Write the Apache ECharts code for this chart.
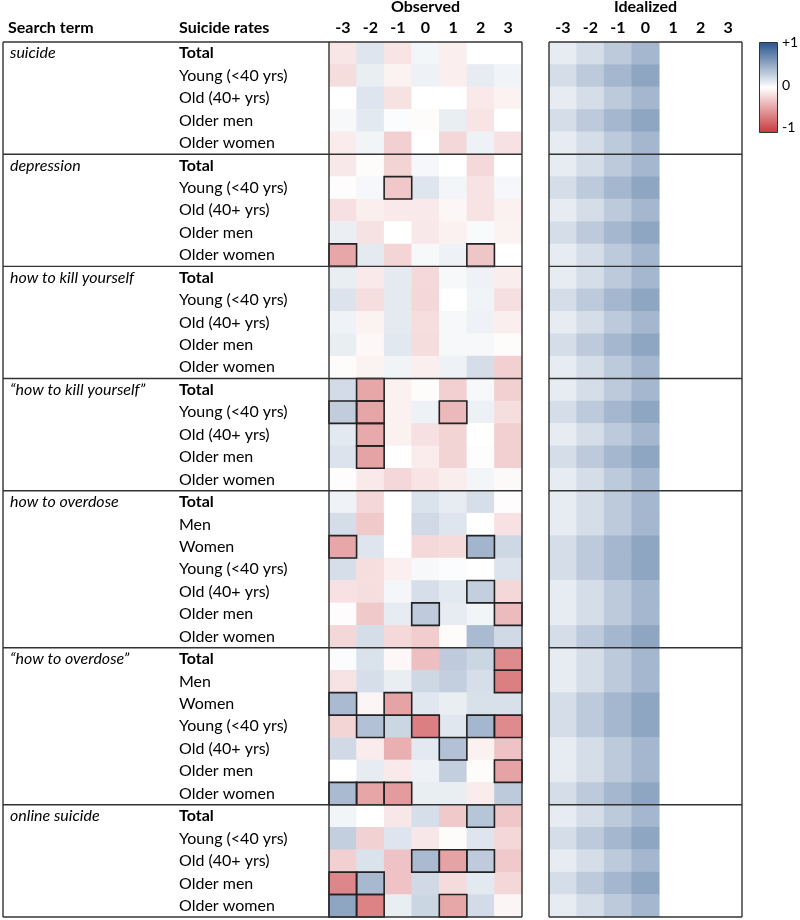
<!DOCTYPE html>
<html>
<head>
<meta charset="utf-8">
<script src="https://cdn.jsdelivr.net/npm/echarts@6/dist/echarts.min.js"></script>
<style>html,body{margin:0;padding:0;background:#fff;}#chart{width:800px;height:920px;}</style>
</head>
<body>
<div id="chart"></div>
<script>
// ---------- DATA ----------
const colLabels = ['-3', '-2', '-1', '0', '1', '2', '3'];
const searchTerms = ['suicide', 'depression', 'how to kill yourself', '\u201chow to kill yourself\u201d',
  'how to overdose', '\u201chow to overdose\u201d', 'online suicide'];
const groupSizes = [5, 5, 5, 5, 7, 7, 5];
const rowLabels = [
  'Total', 'Young (<40 yrs)', 'Old (40+ yrs)', 'Older men', 'Older women',
  'Total', 'Young (<40 yrs)', 'Old (40+ yrs)', 'Older men', 'Older women',
  'Total', 'Young (<40 yrs)', 'Old (40+ yrs)', 'Older men', 'Older women',
  'Total', 'Young (<40 yrs)', 'Old (40+ yrs)', 'Older men', 'Older women',
  'Total', 'Men', 'Women', 'Young (<40 yrs)', 'Old (40+ yrs)', 'Older men', 'Older women',
  'Total', 'Men', 'Women', 'Young (<40 yrs)', 'Old (40+ yrs)', 'Older men', 'Older women',
  'Total', 'Young (<40 yrs)', 'Old (40+ yrs)', 'Older men', 'Older women'
];
// observed correlations, columns -3..3
const observed = [
  [-0.125, 0.15, -0.135, 0.055, -0.085, 0, 0],
  [-0.175, 0.1, -0.065, 0.08, -0.085, 0.11, 0.07],
  [0, 0.15, -0.145, 0, 0, -0.11, -0.065],
  [0.04, 0.13, 0.02, -0.02, 0.1, -0.135, 0],
  [-0.095, 0.06, -0.24, 0, -0.2, 0.08, -0.15],

  [-0.115, -0.02, -0.215, 0.045, 0, -0.19, 0],
  [-0.015, 0.045, -0.275, 0.15, 0.055, -0.14, 0.045],
  [-0.155, -0.085, -0.11, -0.11, -0.045, -0.14, -0.07],
  [0.095, -0.145, 0, -0.115, -0.07, 0.03, -0.065],
  [-0.44, 0.12, -0.21, 0.04, 0.08, -0.285, 0],

  [0.1, -0.11, 0.12, -0.19, 0.04, 0.08, -0.09],
  [0.16, -0.17, 0.12, -0.2, 0, 0.065, -0.16],
  [0.075, -0.065, 0.12, -0.17, 0.04, 0.08, -0.085],
  [0.1, -0.04, 0.135, -0.175, 0.04, 0.04, -0.02],
  [-0.02, -0.065, 0.065, -0.085, 0.08, 0.2, -0.24],

  [0.21, -0.44, -0.07, -0.02, -0.24, 0.04, -0.24],
  [0.29, -0.45, -0.07, 0.08, -0.35, 0.085, -0.17],
  [0.13, -0.43, -0.07, -0.155, -0.215, 0, -0.24],
  [0.16, -0.46, 0, -0.1, -0.215, -0.01, -0.24],
  [-0.015, -0.11, -0.2, -0.135, -0.09, 0.055, -0.03],

  [0.075, -0.2, 0, 0.17, 0.11, 0.19, -0.015],
  [0.2, -0.27, 0, 0.22, 0.15, 0, -0.15],
  [-0.44, 0.15, 0, -0.19, -0.18, 0.43, 0.23],
  [0.19, -0.17, -0.08, 0.04, 0.02, 0, 0.16],
  [-0.15, -0.17, 0.05, 0.19, 0.13, 0.28, -0.2],
  [-0.015, -0.27, 0.11, 0.3, 0.11, 0.06, -0.34],
  [-0.2, 0.2, -0.19, -0.25, -0.02, 0.4, 0.22],

  [0.02, 0.17, -0.04, -0.32, 0.3, 0.24, -0.58],
  [-0.14, 0.19, 0.1, 0.23, 0.28, 0.19, -0.64],
  [0.4, -0.05, -0.46, 0.14, 0.1, 0.18, 0.18],
  [-0.21, 0.36, 0.24, -0.64, 0.14, 0.42, -0.58],
  [0.22, -0.1, -0.4, 0.13, 0.36, -0.07, -0.3],
  [0, 0.11, -0.11, 0.08, 0.28, -0.02, -0.46],
  [0.4, -0.45, -0.5, 0.1, 0.1, -0.1, 0.31],

  [0.06, 0, -0.12, 0.19, -0.27, 0.34, -0.28],
  [0.28, -0.23, 0.15, -0.12, -0.02, 0.15, -0.2],
  [-0.24, 0.17, -0.3, 0.4, -0.46, 0.3, -0.27],
  [-0.6, 0.41, -0.3, 0.22, -0.18, 0.13, -0.2],
  [0.52, -0.62, 0.1, 0.24, -0.44, 0.21, -0.05]
];
// idealized correlations, columns -3..0 (1..3 empty)
const idealized = [
  [0.11, 0.2, 0.31, 0.42], [0.2, 0.31, 0.42, 0.52], [0.11, 0.2, 0.31, 0.42], [0.2, 0.31, 0.42, 0.52], [0.11, 0.2, 0.31, 0.42],
  [0.11, 0.2, 0.31, 0.42], [0.2, 0.31, 0.42, 0.52], [0.11, 0.2, 0.31, 0.42], [0.2, 0.31, 0.42, 0.52], [0.11, 0.2, 0.31, 0.42],
  [0.11, 0.2, 0.31, 0.42], [0.2, 0.31, 0.42, 0.52], [0.11, 0.2, 0.31, 0.42], [0.2, 0.31, 0.42, 0.52], [0.11, 0.2, 0.31, 0.42],
  [0.11, 0.2, 0.31, 0.42], [0.2, 0.31, 0.42, 0.52], [0.11, 0.2, 0.31, 0.42], [0.2, 0.31, 0.42, 0.52], [0.11, 0.2, 0.31, 0.42],
  [0.11, 0.2, 0.31, 0.42], [0.11, 0.2, 0.31, 0.42], [0.2, 0.31, 0.42, 0.52], [0.2, 0.31, 0.42, 0.52], [0.11, 0.2, 0.31, 0.42], [0.11, 0.2, 0.31, 0.42], [0.2, 0.31, 0.42, 0.52],
  [0.11, 0.2, 0.31, 0.42], [0.11, 0.2, 0.31, 0.42], [0.2, 0.31, 0.42, 0.52], [0.2, 0.31, 0.42, 0.52], [0.11, 0.2, 0.31, 0.42], [0.11, 0.2, 0.31, 0.42], [0.2, 0.31, 0.42, 0.52],
  [0.11, 0.2, 0.31, 0.42], [0.2, 0.31, 0.42, 0.52], [0.11, 0.2, 0.31, 0.42], [0.2, 0.31, 0.42, 0.52], [0.11, 0.2, 0.31, 0.42]
];
// significant cells: [row, column index]
const significant = [
  [6, 2], [9, 0], [9, 5],
  [15, 1], [16, 0], [16, 1], [16, 4], [17, 1], [18, 1],
  [22, 0], [22, 5], [24, 5], [25, 3], [25, 6],
  [27, 6], [28, 6], [29, 0], [29, 2], [30, 1], [30, 3], [30, 5], [30, 6], [31, 4], [32, 6], [33, 0], [33, 1], [33, 2],
  [34, 5], [36, 3], [36, 4], [36, 5], [37, 0], [37, 1], [38, 0], [38, 1], [38, 4]
];
const colorRange = ['#c8373c', '#ffffff', '#28538b'];

// ---------- BUILD ----------
const nRows = rowLabels.length;
const rowKeys = rowLabels.map((_, i) => String(i));
const groupStart = {};
const boundaries = [0];
let acc = 0;
groupSizes.forEach((s, g) => { groupStart[acc] = searchTerms[g]; acc += s; boundaries.push(acc); });

const obsData = [];
observed.forEach((row, r) => row.forEach((v, c) => obsData.push([c, r, v])));
const idData = [];
idealized.forEach((row, r) => row.forEach((v, c) => idData.push([c, r, v])));
const sigData = significant.map(([r, c]) => [c, r]);

const FONT = 'Lato';
const FS = 16;
const LINE = '#333';
const FRAME_LEFT = 3;

function boundaryY(api, b) {
  const h = api.size([0, 1])[1];
  if (b < nRows) return api.coord([0, b])[1] - h / 2;
  return api.coord([0, nRows - 1])[1] + h / 2;
}
function makeSepRenderer(withLabelArea) {
  return function (params, api) {
    const cs = params.coordSys;
    const b = api.value(1);
    const y = boundaryY(api, b);
    const x0 = withLabelArea ? FRAME_LEFT : cs.x;
    const children = [{
      type: 'line', shape: { x1: x0, y1: y, x2: cs.x + cs.width, y2: y },
      style: { stroke: LINE, lineWidth: 1.4 }
    }];
    if (b === 0) {
      const yb = boundaryY(api, nRows);
      const xs = withLabelArea ? [FRAME_LEFT, cs.x, cs.x + cs.width] : [cs.x, cs.x + cs.width];
      xs.forEach(x => children.push({
        type: 'line', shape: { x1: x, y1: y, x2: x, y2: yb },
        style: { stroke: LINE, lineWidth: 1.4 }
      }));
    }
    return { type: 'group', children };
  };
}

const chart = echarts.init(document.getElementById('chart'), null, { renderer: 'canvas' });
const labelStyle = { fontFamily: FONT, fontSize: FS, color: '#000' };
const titleStyle = { fontFamily: FONT, fontSize: FS, fontWeight: 'bold', color: '#000' };

const option = {
  backgroundColor: '#fff',
  animation: false,
  textStyle: { fontFamily: FONT },
  grid: [
    { left: 329, top: 42, width: 193, height: 875, show: false, outerBoundsMode: 'none', containLabel: false },
    { left: 549, top: 42, width: 193, height: 875, show: false, outerBoundsMode: 'none', containLabel: false }
  ],
  xAxis: [
    {
      gridIndex: 0, type: 'category', data: colLabels, position: 'top',
      name: 'Observed', nameLocation: 'middle', nameGap: 24, nameTextStyle: titleStyle,
      axisLine: { show: false }, axisTick: { show: false }, splitLine: { show: false },
      axisLabel: { ...labelStyle, fontWeight: 'bold', margin: 6, interval: 0 }
    },
    {
      gridIndex: 1, type: 'category', data: colLabels, position: 'top',
      name: 'Idealized', nameLocation: 'middle', nameGap: 24, nameTextStyle: titleStyle,
      axisLine: { show: false }, axisTick: { show: false }, splitLine: { show: false },
      axisLabel: { ...labelStyle, fontWeight: 'bold', margin: 6, interval: 0 }
    }
  ],
  yAxis: [
    {
      gridIndex: 0, type: 'category', data: rowKeys, inverse: true, position: 'left',
      axisLine: { show: false }, axisTick: { show: false }, splitLine: { show: false },
      axisLabel: {
        ...labelStyle, interval: 0, align: 'left', margin: 150,
        formatter: (v, i) => rowLabels[i] === 'Total' ? '{b|Total}' : rowLabels[i],
        rich: { b: { fontFamily: FONT, fontSize: FS, fontWeight: 'bold', color: '#000' } }
      }
    },
    {
      gridIndex: 0, type: 'category', data: rowKeys, inverse: true, position: 'left', offset: 0,
      axisLine: { show: false }, axisTick: { show: false }, splitLine: { show: false },
      axisLabel: {
        ...labelStyle, fontStyle: 'italic', interval: 0, align: 'left', margin: 319,
        formatter: (v, i) => groupStart[i] !== undefined ? groupStart[i] : ''
      }
    },
    {
      gridIndex: 1, type: 'category', data: rowKeys, inverse: true, position: 'left',
      axisLine: { show: false }, axisTick: { show: false }, splitLine: { show: false },
      axisLabel: { show: false }
    }
  ],
  visualMap: {
    type: 'continuous', min: -1, max: 1, show: false, seriesIndex: [0, 1],
    inRange: { color: colorRange }
  },
  series: [
    {
      type: 'heatmap', xAxisIndex: 0, yAxisIndex: 0, data: obsData,
      itemStyle: { borderWidth: 0 }, emphasis: { disabled: true }
    },
    {
      type: 'heatmap', xAxisIndex: 1, yAxisIndex: 2, data: idData,
      itemStyle: { borderWidth: 0 }, emphasis: { disabled: true }
    },
    {
      type: 'custom', xAxisIndex: 0, yAxisIndex: 0, clip: false, z: 10,
      data: sigData,
      renderItem: function (params, api) {
        const c = api.coord([api.value(0), api.value(1)]);
        const s = api.size([1, 1]);
        return {
          type: 'rect',
          shape: { x: c[0] - s[0] / 2, y: c[1] - s[1] / 2, width: s[0], height: s[1] },
          style: { fill: null, stroke: '#222', lineWidth: 1.6 }
        };
      }
    },
    {
      type: 'custom', xAxisIndex: 0, yAxisIndex: 0, clip: false, z: 12,
      data: boundaries.map(b => [0, b]),
      renderItem: makeSepRenderer(true)
    },
    {
      type: 'custom', xAxisIndex: 1, yAxisIndex: 2, clip: false, z: 12,
      data: boundaries.map(b => [0, b]),
      renderItem: makeSepRenderer(false)
    }
  ],
  graphic: [
    { type: 'text', left: 8, top: 20, style: { text: 'Search term', font: 'bold ' + FS + 'px ' + FONT, fill: '#000' } },
    { type: 'text', left: 179, top: 20, style: { text: 'Suicide rates', font: 'bold ' + FS + 'px ' + FONT, fill: '#000' } },
    {
      type: 'rect', left: 759, top: 42,
      shape: { width: 18, height: 90 },
      style: {
        fill: new echarts.graphic.LinearGradient(0, 0, 0, 1, [
          { offset: 0, color: colorRange[2] },
          { offset: 0.5, color: colorRange[1] },
          { offset: 1, color: colorRange[0] }
        ]),
        stroke: '#333', lineWidth: 1
      }
    },
    { type: 'text', left: 782, top: 35, style: { text: '+1', font: '14px ' + FONT, fill: '#000' } },
    { type: 'text', left: 782, top: 78, style: { text: '0', font: '14px ' + FONT, fill: '#000' } },
    { type: 'text', left: 782, top: 120, style: { text: '-1', font: '14px ' + FONT, fill: '#000' } }
  ]
};
chart.setOption(option);
</script>
</body>
</html>
